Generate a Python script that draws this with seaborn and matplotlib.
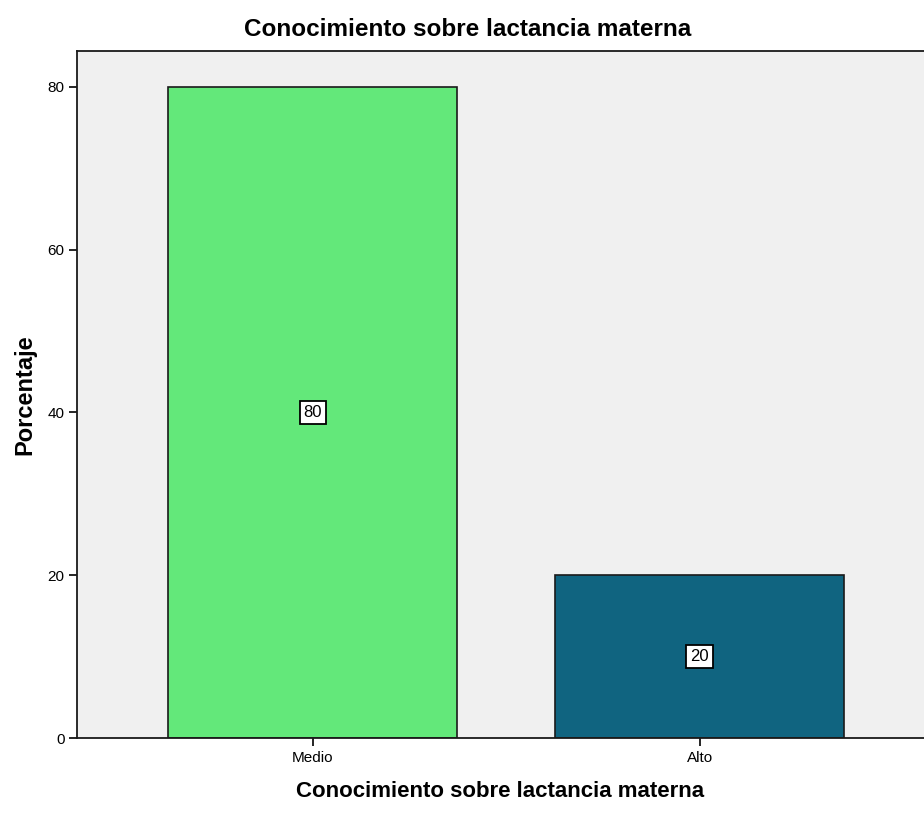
import numpy as np
import pandas as pd
import matplotlib
matplotlib.use('Agg')
import matplotlib.pyplot as plt
import seaborn as sns

# Data
niveles = ['Medio', 'Alto']
porcentajes = [80, 20]
colores = ['#63E87A', '#106480']

df = pd.DataFrame({'Nivel': niveles, 'Porcentaje': porcentajes})

sns.set_style('white')
plt.rcParams['font.family'] = ['Liberation Sans', 'DejaVu Sans']
plt.rcParams['text.color'] = 'black'

fig = plt.figure(figsize=(9.24, 8.14), dpi=100)
ax = fig.add_axes([77/924, 1 - 738/814, 1 - 77/924, (738 - 51)/814])
ax.set_facecolor('#F0F0F0')

sns.barplot(data=df, x='Nivel', y='Porcentaje', hue='Nivel', palette=colores,
            order=niveles, width=0.747, saturation=1, edgecolor='#1a1a1a',
            linewidth=1.2, legend=False, ax=ax)

ax.set_xlim(-0.61, 1.58)
ax.set_ylim(0, 84.4)
ax.set_yticks([0, 20, 40, 60, 80])

# value labels in the middle of each bar
for i, v in enumerate(porcentajes):
    ax.text(i, v / 2, str(v), ha='center', va='center', fontsize=12, color='black',
            bbox=dict(boxstyle='square,pad=0.25', fc='white', ec='black', lw=1.3))

for s in ['left', 'bottom', 'top']:
    ax.spines[s].set_color('#1a1a1a')
    ax.spines[s].set_linewidth(1.3)
ax.spines['right'].set_visible(False)

ax.tick_params(axis='both', direction='out', length=6, width=1.2, labelsize=11,
               colors='black', pad=3, left=True, bottom=True)

# title is centred a bit left of the axes centre in the original
fig.text(468/924, 1 - 30/814, 'Conocimiento sobre lactancia materna', fontsize=17.5,
         fontweight='bold', color='black', ha='center', va='center')
ax.set_xlabel('Conocimiento sobre lactancia materna', fontsize=16, fontweight='bold',
              color='black', labelpad=12)
ax.set_ylabel('Porcentaje', fontsize=17, fontweight='bold', color='black', labelpad=8)

fig.savefig('out.png', dpi=100)
